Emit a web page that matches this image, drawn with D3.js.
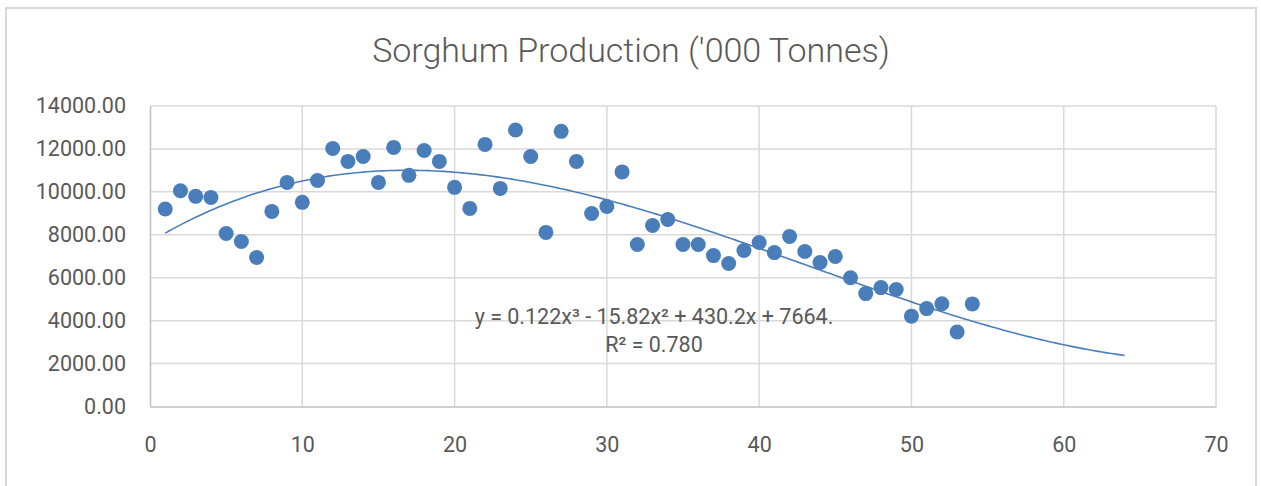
<!DOCTYPE html>
<html>
<head>
<meta charset="utf-8">
<script src="https://cdn.jsdelivr.net/npm/d3@7"></script>
<style>
  html, body { margin: 0; padding: 0; background: #fff; }
  svg { display: block; }
</style>
</head>
<body>
<svg id="chart" width="1261" height="486"></svg>
<script>
const title = "Sorghum Production ('000 Tonnes)";
const xValues = d3.range(1, 55);
const yValues = [
  9200, 10050, 9790, 9740, 8060, 7690, 6940, 9090, 10440, 9510,
  10530, 12020, 11420, 11650, 10440, 12070, 10770, 11930, 11420, 10210,
  9230, 12210, 10160, 12880, 11650, 8110, 12820, 11420, 8990, 9320,
  10930, 7550, 8430, 8710, 7550, 7550, 7030, 6660, 7270, 7640,
  7170, 7920, 7220, 6710, 6990, 6000, 5260, 5540, 5450, 4210,
  4560, 4790, 3470, 4780
];
const xTicks = [0, 10, 20, 30, 40, 50, 60, 70];
const yTicks = [0, 2000, 4000, 6000, 8000, 10000, 12000, 14000];
// Trendline coefficients as displayed on the chart: a3, a2, a1, a0
const trendCoef = [0.122, -15.82, 430.2, 7664];
const trendRange = [1, 64];
const eqLine1 = "y = 0.122x³ - 15.82x² + 430.2x + 7664.";
const eqLine2 = "R² = 0.780";

const svg = d3.select("#chart");
const textColor = "#595959";
const blue = "#4a7ebb";

// chart border
svg.append("rect").attr("x", 6).attr("y", 8).attr("width", 1250).attr("height", 490)
  .attr("fill", "#fff").attr("stroke", "#d9d9d9").attr("stroke-width", 2);

const x = d3.scaleLinear().domain([0, 70]).range([150, 1216]);
const y = d3.scaleLinear().domain([0, 14000]).range([406.5, 106]);

// gridlines
const grid = svg.append("g");
grid.selectAll("line.h").data(yTicks.filter(d => d > 0)).join("line")
  .attr("x1", x(0)).attr("x2", x(70))
  .attr("y1", d => y(d)).attr("y2", d => y(d))
  .attr("stroke", "#d9d9d9").attr("stroke-width", 1.5);
grid.selectAll("line.v").data(xTicks.filter(d => d > 0)).join("line")
  .attr("y1", y(0)).attr("y2", y(14000))
  .attr("x1", d => x(d)).attr("x2", d => x(d))
  .attr("stroke", "#d9d9d9").attr("stroke-width", 1.5);

// axes
const xAxis = d3.axisBottom(x).tickValues(xTicks).tickSize(0).tickPadding(30).tickFormat(d3.format("d"));
const gx = svg.append("g").attr("transform", `translate(0,${y(0)})`).call(xAxis);
gx.select(".domain").attr("stroke", "#bfbfbf").attr("stroke-width", 1.5);
gx.selectAll("text").attr("fill", textColor).attr("font-family", "Roboto, sans-serif").attr("font-size", 21.5);

const yAxis = d3.axisLeft(y).tickValues(yTicks).tickSize(0).tickPadding(24).tickFormat(d3.format(".2f"));
const gy = svg.append("g").attr("transform", `translate(${x(0)},0)`).call(yAxis);
gy.select(".domain").attr("stroke", "#bfbfbf").attr("stroke-width", 1.5);
gy.selectAll("text").attr("fill", textColor).attr("font-family", "Roboto, sans-serif").attr("font-size", 21.5);

// points
const pts = xValues.map((v, i) => [v, yValues[i]]);
svg.append("g").selectAll("circle").data(pts).join("circle")
  .attr("cx", d => x(d[0])).attr("cy", d => y(d[1])).attr("r", 7.5)
  .attr("fill", blue);

// trendline
const poly = t => ((trendCoef[0] * t + trendCoef[1]) * t + trendCoef[2]) * t + trendCoef[3];
const tx = d3.range(trendRange[0], trendRange[1] + 0.001, 0.25);
svg.append("path").datum(tx)
  .attr("d", d3.line().x(t => x(t)).y(t => y(poly(t))))
  .attr("fill", "none").attr("stroke", blue).attr("stroke-width", 1.6);

// equation
const eq = svg.append("g").attr("fill", textColor).attr("font-family", "Roboto, sans-serif")
  .attr("font-size", 21.5).attr("text-anchor", "middle");
eq.append("text").attr("x", 654).attr("y", 324).text(eqLine1);
eq.append("text").attr("x", 654).attr("y", 352).text(eqLine2);

// title
svg.append("text").attr("x", 631).attr("y", 62).attr("text-anchor", "middle")
  .attr("fill", textColor).attr("font-family", "Roboto, sans-serif").attr("font-weight", 300)
  .attr("font-size", 34).text(title);
</script>
</body>
</html>
